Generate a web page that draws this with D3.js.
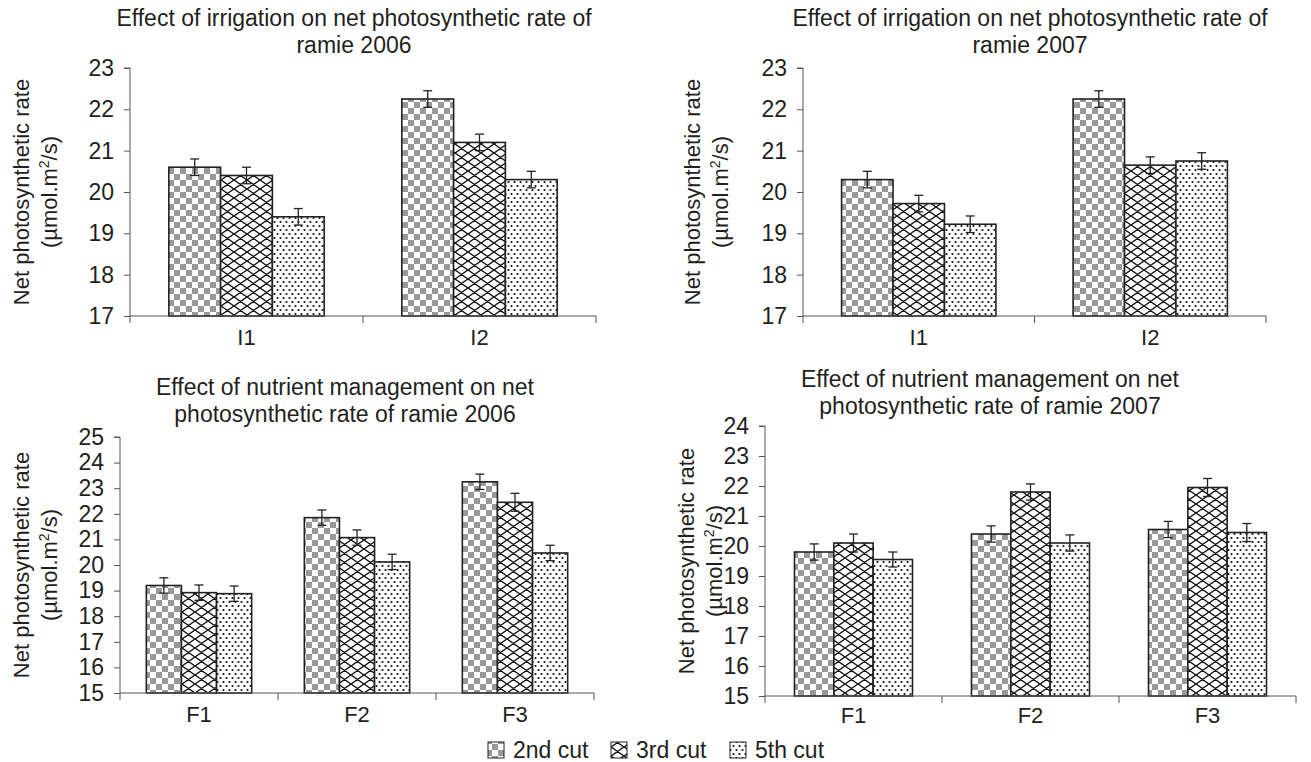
<!DOCTYPE html>
<html><head><meta charset="utf-8">
<script src="https://cdn.jsdelivr.net/npm/d3@7"></script>
<style>body{margin:0;background:#fff}svg{display:block;font-family:"Liberation Sans",Arial,sans-serif}</style>
</head><body>
<svg id="c" width="1311" height="762"></svg>
<script>
// ---- data ----
const cuts = ["2nd cut", "3rd cut", "5th cut"];
const irrCats = ["I1", "I2"];
const nutCats = ["F1", "F2", "F3"];
// values per category: [2nd, 3rd, 5th]
const irr2006 = [[20.6, 20.4, 19.4], [22.25, 21.2, 20.3]];
const irr2006Err = [[0.2, 0.2, 0.2], [0.2, 0.2, 0.2]];
const irr2007 = [[20.3, 19.72, 19.22], [22.25, 20.65, 20.75]];
const irr2007Err = [[0.2, 0.2, 0.2], [0.2, 0.2, 0.2]];
const nut2006 = [[19.2, 18.92, 18.88], [21.85, 21.07, 20.12], [23.25, 22.45, 20.47]];
const nut2006Err = [[0.3, 0.3, 0.3], [0.3, 0.3, 0.3], [0.3, 0.35, 0.3]];
const nut2007 = [[19.8, 20.1, 19.55], [20.4, 21.8, 20.1], [20.55, 21.95, 20.45]];
const nut2007Err = [[0.27, 0.3, 0.25], [0.27, 0.27, 0.27], [0.27, 0.3, 0.3]];
const irrTicks = [17, 18, 19, 20, 21, 22, 23];
const nut2006Ticks = [15, 16, 17, 18, 19, 20, 21, 22, 23, 24, 25];
const nut2007Ticks = [15, 16, 17, 18, 19, 20, 21, 22, 23, 24];
const titles = [
  ["Effect of irrigation on net photosynthetic rate of", "ramie 2006"],
  ["Effect of irrigation on net photosynthetic rate of", "ramie 2007"],
  ["Effect of nutrient management on net", "photosynthetic rate of ramie 2006"],
  ["Effect of nutrient management on net", "photosynthetic rate of ramie 2007"]
];

const TXT = "#231f20";
const AX = "#555";
const svg = d3.select("#c");
const defs = svg.append("defs");

// patterns
const p1 = defs.append("pattern").attr("id", "pat0").attr("patternUnits", "userSpaceOnUse")
  .attr("width", 12).attr("height", 12);
p1.append("rect").attr("width", 12).attr("height", 12).attr("fill", "#fff");
p1.append("rect").attr("width", 6).attr("height", 6).attr("fill", "#999");
p1.append("rect").attr("x", 6).attr("y", 6).attr("width", 6).attr("height", 6).attr("fill", "#999");

const p2 = defs.append("pattern").attr("id", "pat1").attr("patternUnits", "userSpaceOnUse")
  .attr("width", 13).attr("height", 9);
p2.append("rect").attr("width", 13).attr("height", 9).attr("fill", "#fff");
p2.append("path").attr("d", "M0,0L13,9M0,9L13,0M-6.5,4.5L0,0M-6.5,4.5L0,9M13,0L19.5,4.5M13,9L19.5,4.5")
  .attr("stroke", "#111").attr("stroke-width", 1.4).attr("fill", "none");

const p3 = defs.append("pattern").attr("id", "pat2").attr("patternUnits", "userSpaceOnUse")
  .attr("width", 6).attr("height", 8);
p3.append("rect").attr("width", 6).attr("height", 8).attr("fill", "#fff");
p3.append("circle").attr("cx", 1.5).attr("cy", 2).attr("r", 1.1).attr("fill", "#111");
p3.append("circle").attr("cx", 4.5).attr("cy", 6).attr("r", 1.1).attr("fill", "#111");

const panels = [
  {cats: irrCats, vals: irr2006, errs: irr2006Err, ticks: irrTicks, x0: 130, x1: 596, yb: 316, yt: 68,
   title: titles[0], tx: 354, ty: 26, ylx: 21, lab: 345},
  {cats: irrCats, vals: irr2007, errs: irr2007Err, ticks: irrTicks, x0: 803, x1: 1266, yb: 316, yt: 68,
   title: titles[1], tx: 1030, ty: 26, ylx: 692, lab: 345},
  {cats: nutCats, vals: nut2006, errs: nut2006Err, ticks: nut2006Ticks, x0: 120, x1: 594, yb: 693, yt: 437,
   title: titles[2], tx: 345, ty: 395, ylx: 21, lab: 722},
  {cats: nutCats, vals: nut2007, errs: nut2007Err, ticks: nut2007Ticks, x0: 765, x1: 1296, yb: 696, yt: 426,
   title: titles[3], tx: 990, ty: 387, ylx: 686, lab: 723}
];

panels.forEach(p => {
  const g = svg.append("g");
  const y = d3.scaleLinear().domain(d3.extent(p.ticks)).range([p.yb, p.yt]);
  const x = d3.scaleBand().domain(p.cats).range([p.x0, p.x1]);
  // gap width 150%: bar = band / 4.5
  const bw = x.bandwidth() / 4.5;
  const sub = d3.scaleBand().domain(d3.range(3)).range([0.75 * bw, 3.75 * bw]);

  // bars
  p.cats.forEach((c, ci) => {
    p.vals[ci].forEach((v, si) => {
      g.append("rect").attr("x", x(c) + sub(si)).attr("y", y(v))
        .attr("width", sub.bandwidth()).attr("height", y(p.ticks[0]) - y(v))
        .attr("fill", `url(#pat${si})`).attr("stroke", "#222").attr("stroke-width", 1.6);
    });
  });
  // error bars
  p.cats.forEach((c, ci) => {
    p.vals[ci].forEach((v, si) => {
      const cx = x(c) + sub(si) + sub.bandwidth() / 2;
      const e = p.errs[ci][si];
      const eg = g.append("g").attr("stroke", "#222").attr("stroke-width", 1.3);
      eg.append("line").attr("x1", cx).attr("x2", cx).attr("y1", y(v + e)).attr("y2", y(v - e));
      eg.append("line").attr("x1", cx - 4.5).attr("x2", cx + 4.5).attr("y1", y(v + e)).attr("y2", y(v + e));
      eg.append("line").attr("x1", cx - 4.5).attr("x2", cx + 4.5).attr("y1", y(v - e)).attr("y2", y(v - e));
    });
  });

  // y axis
  const ya = g.append("g").attr("transform", `translate(${p.x0},0)`)
    .call(d3.axisLeft(y).tickValues(p.ticks).tickSize(6).tickPadding(10).tickFormat(d3.format("d")));
  ya.select(".domain").attr("stroke", AX).attr("d", `M-6,${y(p.ticks[p.ticks.length-1])}H0V${p.yb}`);
  ya.selectAll(".tick line").attr("stroke", AX);
  ya.selectAll("text").attr("font-size", 23).attr("fill", TXT).attr("font-family", "Liberation Sans, Arial");

  // x axis
  const xa = g.append("g");
  xa.append("line").attr("x1", p.x0).attr("x2", p.x1).attr("y1", p.yb).attr("y2", p.yb).attr("stroke", AX);
  const bounds = p.cats.map(c => x(c)).concat([p.x1]);
  bounds.forEach(b => xa.append("line").attr("x1", b).attr("x2", b).attr("y1", p.yb).attr("y2", p.yb + 7).attr("stroke", AX));
  p.cats.forEach(c => xa.append("text").attr("x", x(c) + x.bandwidth() / 2).attr("y", p.lab)
    .attr("text-anchor", "middle").attr("font-size", 22).attr("fill", TXT).text(c));

  // title
  p.title.forEach((t, i) => g.append("text").attr("x", p.tx).attr("y", p.ty + i * 27)
    .attr("text-anchor", "middle").attr("font-size", 23).attr("fill", TXT).text(t));

  // y title
  const ym = (p.yb + y(p.ticks[p.ticks.length - 1])) / 2;
  const yt = g.append("g").attr("transform", `translate(${p.ylx},${ym}) rotate(-90)`);
  yt.append("text").attr("y", 8).attr("text-anchor", "middle").attr("font-size", 22).attr("fill", TXT)
    .text("Net photosynthetic rate");
  const t2 = yt.append("text").attr("y", 36).attr("text-anchor", "middle").attr("font-size", 22).attr("fill", TXT);
  t2.append("tspan").text("(µmol.m");
  t2.append("tspan").attr("font-size", 14).attr("dy", -8).text("2");
  t2.append("tspan").attr("dy", 8).text("/s)");
});

// legend
const legX = [488, 611, 730];
const lg = svg.append("g");
cuts.forEach((c, i) => {
  lg.append("rect").attr("x", legX[i]).attr("y", 742).attr("width", 16).attr("height", 16)
    .attr("fill", `url(#pat${i})`).attr("stroke", "#222").attr("stroke-width", 1);
  lg.append("text").attr("x", legX[i] + 25).attr("y", 758).attr("font-size", 23).attr("fill", TXT).text(c);
});
</script>
</body></html>
